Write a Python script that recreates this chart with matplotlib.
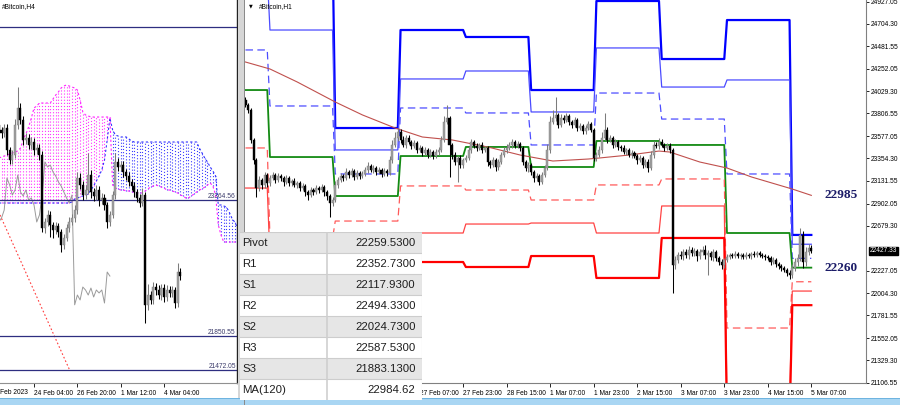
import numpy as np
import matplotlib
matplotlib.use("Agg")
import matplotlib.pyplot as plt
from matplotlib.patches import Rectangle
import matplotlib.transforms as mtransforms

plt.rcParams['font.family'] = ['Liberation Sans', 'DejaVu Sans']

# ---------------- RIGHT PANEL (#Bitcoin,H1) ----------------
r_open0 = 23941
r_close = [
    23891, 23841, 23540, 23339, 23058, 23139, 23089, 23189, 23109, 23159,
    23189, 23139, 23179, 23159, 23119, 23159, 23109, 23129, 23089, 23109,
    23058, 23079, 23018, 22988, 23038, 23018, 23058, 23038, 23068, 23018,
    22978, 22908, 22938, 23089, 23139, 23179, 23159, 23219, 23189, 23229,
    23169, 23209, 23179, 23199, 23239, 23279, 23239, 23259, 23219, 23239,
    23199, 23229, 23209, 23339, 23490, 23560, 23620, 23540, 23490, 23560,
    23520, 23480, 23510, 23440, 23460, 23409, 23440, 23389, 23419, 23379,
    23419, 23440, 23540, 23720, 23760, 23490, 23389, 23319, 23359, 23289,
    23339, 23359, 23440, 23520, 23480, 23460, 23490, 23440, 23460, 23319,
    23289, 23339, 23269, 23319, 23389, 23440, 23460, 23490, 23520, 23480,
    23500, 23460, 23319, 23259, 23289, 23219, 23159, 23179, 23119, 23189,
    23259, 23440, 23720, 23760, 23791, 23690, 23760, 23740, 23781, 23720,
    23690, 23740, 23660, 23680, 23630, 23660, 23700, 23640, 23359, 23389,
    23440, 23560, 23640, 23540, 23560, 23490, 23520, 23470, 23460, 23419,
    23440, 23389, 23409, 23379, 23339, 23359, 23289, 23319, 23259, 23389,
    23490, 23480, 23520, 23490, 23460, 23480, 23440, 22286, 22336, 22386,
    22376, 22417, 22386, 22437, 22406, 22427, 22376, 22417, 22437, 22386,
    22406, 22366, 22417, 22356, 22316, 22286, 22336, 22366, 22386, 22376,
    22396, 22376, 22386, 22366, 22386, 22376, 22396, 22386, 22406, 22386,
    22376, 22366, 22356, 22316, 22336, 22296, 22276, 22256, 22236, 22206,
    22186, 22256, 22316, 22356, 22587, 22316, 22417, 22457, 22427]
r_hi_ext = [
    30, 20, 20, 20, 20, 40, 20, 30, 20, 30,
    30, 20, 30, 20, 20, 30, 20, 20, 30, 20,
    20, 30, 20, 20, 30, 20, 30, 20, 30, 20,
    20, 20, 30, 40, 30, 30, 20, 40, 20, 30,
    20, 30, 20, 30, 30, 40, 20, 30, 20, 30,
    20, 30, 20, 40, 50, 60, 40, 30, 40, 30,
    30, 20, 30, 20, 30, 20, 30, 20, 30, 20,
    30, 30, 40, 60, 130, 20, 20, 30, 20, 30,
    20, 30, 40, 30, 20, 30, 20, 30, 20, 20,
    20, 30, 20, 30, 30, 30, 40, 30, 30, 20,
    30, 20, 20, 20, 30, 20, 20, 30, 20, 30,
    30, 60, 60, 80, 180, 20, 40, 30, 30, 20,
    20, 30, 20, 30, 20, 30, 30, 20, 20, 30,
    40, 60, 170, 30, 30, 20, 30, 20, 20, 30,
    20, 20, 30, 20, 20, 30, 20, 30, 30, 40,
    40, 30, 40, 30, 20, 30, 30, 20, 40, 30,
    40, 30, 30, 40, 30, 30, 20, 30, 40, 50,
    30, 20, 30, 20, 20, 30, 20, 30, 20, 20,
    30, 20, 20, 20, 30, 20, 20, 30, 20, 20,
    20, 20, 20, 20, 30, 20, 20, 20, 20, 20,
    30, 40, 40, 40, 70, 40, 50, 40, 30]
r_lo_ext = [
    20, 30, 30, 40, 90, 30, 40, 30, 40, 30,
    20, 30, 20, 30, 40, 20, 30, 30, 20, 30,
    30, 20, 40, 50, 20, 30, 20, 30, 20, 40,
    40, 140, 30, 20, 30, 20, 30, 20, 30, 20,
    30, 20, 30, 20, 20, 30, 20, 30, 30, 20,
    30, 20, 30, 20, 30, 20, 30, 30, 20, 30,
    20, 30, 20, 30, 20, 30, 20, 30, 20, 30,
    20, 30, 20, 20, 20, 320, 40, 30, 200, 30,
    30, 20, 20, 30, 20, 30, 20, 30, 20, 40,
    30, 20, 40, 30, 20, 20, 30, 20, 30, 20,
    20, 30, 30, 30, 40, 30, 40, 30, 30, 20,
    20, 20, 30, 20, 30, 30, 20, 30, 20, 30,
    30, 20, 30, 20, 30, 30, 20, 20, 30, 30,
    20, 30, 20, 30, 20, 30, 20, 30, 30, 20,
    30, 20, 30, 20, 40, 20, 30, 20, 40, 20,
    30, 20, 30, 20, 30, 20, 30, 280, 40, 30,
    30, 40, 30, 40, 30, 30, 50, 30, 30, 40,
    200, 30, 40, 30, 30, 40, 30, 20, 20, 20,
    20, 20, 30, 20, 20, 20, 30, 20, 20, 20,
    20, 30, 20, 30, 20, 30, 30, 30, 20, 30,
    40, 30, 30, 40, 30, 60, 40, 30, 20]

# daily pivot levels (24 Feb ... 5 Mar), bars per day
r_day_len = [9, 24, 24, 24, 24, 24, 24, 24, 24, 8]
r3_day = [25500, 25500, 23660, 24643, 24573, 24041, 24934, 24352, 24743, 22587.53]
r2_day = [25200, 24643, 23440, 24152, 24232, 23821, 24463, 24071, 24142, 22494.33]
r1_day = [24443, 23881, 23199, 23861, 23811, 23490, 24011, 23750, 23199, 22352.73]
pv_day = [24041, 23369, 22978, 23379, 23470, 23269, 23530, 23490, 22607, 22259.53]
s1_day = [23460, 22550, 22727, 23079, 23038, 22938, 23089, 23149, 21654, 22117.93]
s2_day = [23058, 22350, 22480, 22607, 22697, 22707, 22607, 22878, 20900, 22024.73]
s3_day = [22600, 22050, 22200, 22316, 22266, 22376, 22156, 22557, 20700, 21883.13]

ma_bar = [0, 9, 19, 33, 43, 55, 65, 76, 89, 101, 113, 126, 130, 141, 152, 156, 167, 177, 186, 201, 208]
ma_val = [24322, 24252, 24122, 23921, 23791, 23660, 23570, 23540, 23470, 23389, 23329, 23349,
          23359, 23389, 23429, 23419, 23319, 23259, 23169, 23048, 22984.62]
r_price_now = 22427.33

r_xticks = [0, 16, 32, 48, 64, 80, 96, 112, 128, 144, 160, 176, 192, 208]
r_xlabels = ["24 Feb 2023", "25 Feb 07:00", "25 Feb 23:00", "26 Feb 15:00", "27 Feb 07:00",
             "27 Feb 23:00", "28 Feb 15:00", "1 Mar 07:00", "1 Mar 23:00", "2 Mar 15:00",
             "3 Mar 07:00", "3 Mar 23:00", "4 Mar 15:00", "5 Mar 07:00"]
r_yticks = [24927.05, 24704.30, 24481.55, 24252.05, 24029.30, 23806.55, 23577.05, 23354.30,
            23131.55, 22902.05, 22679.30, 22227.05, 22004.30, 21781.55, 21552.05, 21329.30, 21106.55]

# ---------------- LEFT PANEL (#Bitcoin,H4) ----------------
l_open0 = 24199
l_close = [
    24144, 24110, 24166, 23921, 23810, 23865, 24199, 24389, 24255, 24032,
    24055, 23977, 24010, 23921, 23943, 23865, 23053, 23120, 23198, 23086,
    23031, 23075, 23008, 22864, 22942, 23053, 23120, 23164, 23253, 23609,
    23532, 23420, 23476, 23643, 23454, 23409, 23476, 23365, 23387, 23309,
    23120, 23198, 23420, 23788, 23732, 23754, 23676, 23632, 23565, 23521,
    23454, 23387, 23331, 23420, 22198, 22307, 22252, 22396, 22363, 22307,
    22385, 22285, 22363, 22330, 22363, 22218, 22563, 22518]
l_hi_ext = [
    40, 30, 50, 40, 30, 60, 70, 230, 60, 40,
    50, 40, 60, 40, 50, 40, 50, 40, 50, 40,
    30, 40, 30, 30, 40, 40, 50, 40, 60, 70,
    60, 40, 60, 250, 50, 40, 60, 40, 50, 40,
    30, 40, 50, 100, 40, 50, 40, 30, 40, 30,
    40, 30, 40, 80, 30, 120, 40, 60, 40, 50,
    40, 40, 50, 40, 40, 30, 100, 50]
l_lo_ext = [
    40, 50, 40, 60, 50, 40, 30, 40, 50, 60,
    40, 50, 40, 60, 40, 50, 50, 60, 40, 130,
    90, 50, 60, 80, 40, 30, 40, 30, 40, 40,
    50, 60, 40, 50, 70, 60, 40, 70, 50, 60,
    70, 40, 30, 40, 50, 40, 60, 40, 50, 40,
    60, 50, 40, 30, 200, 60, 40, 50, 60, 40,
    50, 60, 40, 50, 40, 60, 40, 40]
senkou_a = [
    23331, 23331, 23331, 23331, 23331, 23331, 23331, 23331, 23331, 23331,
    23331, 23331, 23331, 23331, 23331, 23331, 23331, 23331, 23331, 23331,
    23331, 23331, 23331, 23331, 23331, 23331, 23331,
    23343, 23376, 23387, 23398, 23409, 23420, 23431, 23476, 23521, 23576,
    23632, 23698, 23810, 24032, 24277, 24144, 24088, 24077, 24066, 24066,
    24066, 24044, 24021,
    24010, 24010, 24010, 24010, 24010, 24010, 24010, 24010, 24010, 24010,
    24010, 24010, 24010, 24010, 24010, 24010, 24010, 24010, 24010, 24010,
    24010, 24010, 24010, 24010,
    23943, 23888, 23832, 23788, 23732, 23687, 23632, 23309, 23309, 23298,
    23287, 23231, 23164, 23120, 23064]
senkou_b = [
    23832, 23843, 23854, 23865, 23877, 23888, 23899, 23910, 23943, 24032,
    24099, 24177, 24277, 24389, 24411,
    24444, 24444, 24444, 24444, 24444,
    24489, 24533, 24567, 24611, 24633, 24645, 24633, 24622, 24611, 24589,
    24478, 24344, 24311, 24300,
    24288, 24288, 24288, 24288, 24288, 24288, 24288, 24288,
    23532, 23498, 23487, 23476, 23476, 23465, 23465, 23454, 23454, 23443,
    23443, 23443, 23465, 23487, 23509, 23521, 23532, 23521, 23509, 23498,
    23476, 23476, 23465, 23454, 23443, 23420, 23409, 23387, 23387, 23409,
    23431, 23454, 23476, 23487, 23509, 23532, 23554, 23521, 23420, 23086,
    22975, 22897, 22897, 22897, 22897, 22897, 22897]
chikou_shift = 26
l_hlines = [25290.0, 23364.56, 21850.55, 21472.05]
l_hline_labels = ["", "23364.56", "21850.55", "21472.05"]
l_trend_k = [0.44, 26.3]
l_trend_p = [23198, 21461]
l_xticks = [13, 29, 45, 61]
l_xlabels = ["24 Feb 04:00", "26 Feb 20:00", "1 Mar 12:00", "4 Mar 04:00"]
l_first_tick = -3
l_first_label = "21 Feb 2023"

# ---------------- table ----------------
tab_names = ["Pivot", "R1", "S1", "R2", "S2", "R3", "S3", "MA(120)"]
tab_values = [pv_day[-1], r1_day[-1], s1_day[-1], r2_day[-1], s2_day[-1], r3_day[-1], s3_day[-1], ma_val[-1]]
tab_fmt = ["%.4f"] * 7 + ["%.2f"]

# =====================================================
W, H = 900, 405
fig = plt.figure(figsize=(9, 4.05), dpi=100)
fig.patch.set_facecolor('white')
TICKFS = 4.8


def draw_candles(ax, open0, closes, hi_ext, lo_ext, z=5):
    c = np.array(closes, float)
    o = np.concatenate([[open0], c[:-1]])
    hi = np.maximum(o, c) + np.array(hi_ext, float)
    lo = np.minimum(o, c) - np.array(lo_ext, float)
    x = np.arange(len(c))
    up = c >= o
    wick = np.where(up, '#7c7c7c', '#000000')
    body = np.where(up, '#a0a0a0', '#000000')
    ax.vlines(x, lo, hi, colors=wick, lw=0.75, zorder=z)
    h = np.maximum(np.abs(c - o), 6)
    ax.bar(x, h, bottom=np.minimum(o, c), width=0.75, color=body, edgecolor=wick,
           linewidth=0.3, zorder=z + 0.1)


# ---------- left axes ----------
axL = fig.add_axes([0, (H - 383) / H, 237 / W, 383 / H])
axL.set_xlim(0.443, 87.9)
axL.set_ylim(21327.8, 25590.6)
axL.set_facecolor('white')

ka = np.arange(len(senkou_a))
sa = np.array(senkou_a, float)
sb = np.array(senkou_b, float)
cloud_col = np.where(sb > sa, '#ff33ff', '#3b3bff')
axL.vlines(ka, np.minimum(sa, sb), np.maximum(sa, sb), colors=cloud_col,
           lw=0.8, linestyles=[(0, (1, 1.8))], zorder=1)
axL.plot(ka, sa, color='#2f2fff', lw=0.8, ls=(0, (2, 2)), zorder=1.5)
axL.plot(ka, sb, color='#ff22ff', lw=0.8, ls=(0, (2, 2)), zorder=1.5)

lc = np.array(l_close, float)
axL.plot(np.arange(len(lc) - chikou_shift), lc[chikou_shift:], color='#9a9a9a', lw=0.7, zorder=2)
axL.plot(l_trend_k, l_trend_p, color='#ff3b3b', lw=0.8, ls=(0, (1.5, 2)), zorder=2)
bl = mtransforms.blended_transform_factory(axL.transAxes, axL.transData)
for p, lab in zip(l_hlines, l_hline_labels):
    axL.axhline(p, color='#2e2e80', lw=0.9, zorder=2.5)
    if lab:
        axL.text(0.995, p, lab, transform=bl, ha='right', va='bottom', fontsize=TICKFS,
                 color='#3a3a6a', zorder=6)
draw_candles(axL, l_open0, l_close, l_hi_ext, l_lo_ext)

axL.set_yticks([])
axL.set_xticks(l_xticks)
axL.set_xticklabels(l_xlabels, fontsize=TICKFS)
for t in axL.get_xticklabels():
    t.set_ha('left')
axL.tick_params(axis='x', length=3, width=0.6, pad=2, colors='black', direction='out')
axL.text(l_first_tick, -0.016, l_first_label,
         transform=mtransforms.blended_transform_factory(axL.transData, axL.transAxes),
         ha='left', va='top', fontsize=TICKFS, clip_on=False)
for s in ['top', 'left']:
    axL.spines[s].set_visible(False)
axL.spines['right'].set_color('#222222')
axL.spines['right'].set_linewidth(1.0)
axL.spines['bottom'].set_color('#909090')
axL.spines['bottom'].set_linewidth(0.8)
axL.text(0.008, 0.992, "#Bitcoin,H4", transform=axL.transAxes, ha='left', va='top', fontsize=TICKFS, zorder=7)

# ---------- right axes ----------
axR = fig.add_axes([245 / W, (H - 383) / H, 621 / W, 383 / H])
axR.set_xlim(-0.18, 228.1)
axR.set_ylim(21102.5, 24944)
axR.set_facecolor('white')

nb = len(r_close)
xb = np.arange(nb)


def expand(vals):
    return np.repeat(np.array(vals, float), r_day_len)


axR.plot(xb, expand(r3_day), color='#0000ff', lw=1.6, zorder=2)
axR.plot(xb, expand(r2_day), color='#4b4bff', lw=0.9, zorder=2)
axR.plot(xb, expand(r1_day), color='#4d4dff', lw=0.9, ls=(0, (6, 3.5)), zorder=2)
axR.plot(xb, expand(pv_day), color='#138a13', lw=1.3, zorder=2)
axR.plot(xb, expand(s1_day), color='#ff5a5a', lw=0.9, ls=(0, (6, 3.5)), zorder=2)
axR.plot(xb, expand(s2_day), color='#ff4444', lw=0.9, zorder=2)
axR.plot(xb, expand(s3_day), color='#ff0000', lw=1.6, zorder=2)
axR.plot(ma_bar, ma_val, color='#c0504d', lw=0.8, zorder=2.5)
draw_candles(axR, r_open0, r_close, r_hi_ext, r_lo_ext)

btr = mtransforms.blended_transform_factory(axR.transAxes, axR.transData)
axR.text(0.987, ma_val[-1], "%d" % round(ma_val[-1]), transform=btr, ha='right', va='center',
         fontsize=9.5, fontweight='bold', family='Liberation Serif', color='#1c1c68', zorder=8)
axR.text(0.987, pv_day[-1], "%d" % round(pv_day[-1]), transform=btr, ha='right', va='center',
         fontsize=9.5, fontweight='bold', family='Liberation Serif', color='#1c1c68', zorder=8)

axR.yaxis.tick_right()
axR.set_yticks(r_yticks)
axR.set_yticklabels(["%.2f" % v for v in r_yticks], fontsize=TICKFS)
axR.tick_params(axis='y', length=2.5, width=0.6, pad=1.2, colors='black', direction='out')
axR.set_xticks(r_xticks)
axR.set_xticklabels(r_xlabels, fontsize=TICKFS)
for t in axR.get_xticklabels():
    t.set_ha('left')
axR.tick_params(axis='x', length=3, width=0.6, pad=2, colors='black', direction='out')
for s in ['top', 'left']:
    axR.spines[s].set_visible(False)
for s in ['right', 'bottom']:
    axR.spines[s].set_color('#808080')
    axR.spines[s].set_linewidth(0.8)
axR.text(1.0055, r_price_now, "%.2f" % r_price_now, transform=btr, ha='left', va='center',
         fontsize=TICKFS, color='white', zorder=9, clip_on=False,
         bbox=dict(boxstyle='square,pad=0.12', fc='black', ec='black'))
axR.text(0.007, 0.99, "\u25BC", transform=axR.transAxes, ha='left', va='top', fontsize=3.5,
         family='DejaVu Sans', zorder=7)
axR.text(0.022, 0.992, "#Bitcoin,H1", transform=axR.transAxes, ha='left', va='top', fontsize=TICKFS, zorder=7)

# ---------- frame decorations (figure level) ----------
fig.patches.append(Rectangle((237.8 / W, 0), 7 / W, 1, transform=fig.transFigure,
                             fc='#d6d6d6', ec='none', zorder=20))
fig.patches.append(Rectangle((244.2 / W, 0), 0.9 / W, 1, transform=fig.transFigure,
                             fc='#8a8a8a', ec='none', zorder=21))
fig.patches.append(Rectangle((0, 0), 1, 6 / H, transform=fig.transFigure,
                             fc='#a9d6f3', ec='none', zorder=20))
fig.patches.append(Rectangle((0, 6 / H), 1, 0.8 / H, transform=fig.transFigure,
                             fc='#6fb4e0', ec='none', zorder=20))

# ---------- pivot table overlay ----------
tab = fig.add_axes([240 / W, (H - 400) / H, 182 / W, 168 / H], zorder=30)
tab.set_xlim(0, 182)
tab.set_ylim(168, 0)
tab.axis('off')
rh = 21
for r, (nm, val, fm) in enumerate(zip(tab_names, tab_values, tab_fmt)):
    fc = '#e6e6e6' if r % 2 == 0 else '#ffffff'
    tab.add_patch(Rectangle((0, r * rh), 182, rh, fc=fc, ec='none'))
    tab.plot([0, 182], [r * rh, r * rh], color='#cdcdcd', lw=0.8)
    tab.text(2.5, r * rh + rh / 2 + 0.5, nm, ha='left', va='center', fontsize=8.2, color='#1e1e1e')
    tab.text(175.5, r * rh + rh / 2 + 0.5, fm % val, ha='right', va='center', fontsize=8.2, color='#1e1e1e')
tab.plot([87, 87], [0, 168], color='#cfcfcf', lw=1.2)
tab.plot([181.5, 181.5], [0, 168], color='#d8d8d8', lw=0.8)

fig.savefig('out.png', dpi=100)
